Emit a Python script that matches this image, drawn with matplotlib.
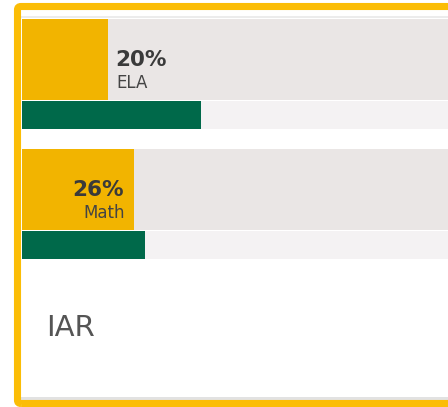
import matplotlib
matplotlib.use('Agg')
import matplotlib.pyplot as plt
from matplotlib.patches import FancyBboxPatch, Rectangle

# data
subjects = ['ELA', 'Math']
school_pct = [20, 26]
benchmark_pct = [41.6, 28.6]
label_side = ['outside', 'inside']
test_name = 'IAR'

W, H = 448, 407


def main():
    fig = plt.figure(figsize=(W / 100, H / 100), dpi=100)
    fig.patch.set_facecolor('white')

    # yellow card border with rounded corner, running off the right edge
    border = FancyBboxPatch((17.5 / W, 3.5 / H), 460 / W, 397 / H,
                            boxstyle='round,pad=0,rounding_size=0.008',
                            transform=fig.transFigure, fill=False,
                            edgecolor='#FBBD06', linewidth=5.1, zorder=5)
    fig.patches.append(border)
    # faint shadow above the bottom border
    fig.patches.append(Rectangle((21 / W, 1 - 400 / H), 1, 3.5 / H,
                                 transform=fig.transFigure,
                                 facecolor='#e2e2e2', edgecolor='none', zorder=4))
    # thin separator above the first bar
    fig.patches.append(Rectangle((21 / W, 1 - 17.5 / H), 1, 1.2 / H,
                                 transform=fig.transFigure,
                                 facecolor='#ececec', edgecolor='none', zorder=4))

    ax = fig.add_axes([22 / W, 1 - 259 / H, (W - 22) / W, 240 / H])
    ax.set_xlim(0, (W - 22) / 4.3)
    ax.set_ylim(240, 0)
    ax.axis('off')

    main_h, bench_h, step = 81, 28, 130
    for i, (name, val, bench, side) in enumerate(zip(subjects, school_pct, benchmark_pct, label_side)):
        yc = i * step + main_h / 2
        yb = i * step + main_h + 1 + bench_h / 2
        ax.barh(yc, 100, height=main_h, color='#EAE6E5', zorder=1)
        ax.barh(yc, val, height=main_h, color='#F2B400', zorder=2)
        ax.barh(yb, 100, height=bench_h, color='#F4F2F3', zorder=1)
        ax.barh(yb, bench, height=bench_h, color='#00694A', zorder=2)

        if side == 'outside':
            dx, ha = 7, 'left'
        else:
            dx, ha = -10, 'right'
        ax.annotate(f'{val}%', xy=(val, yc), xytext=(dx, -6.5),
                    textcoords='offset pixels', ha=ha, va='baseline',
                    fontsize=15.5, fontweight='bold', color='#3a3a3a', zorder=3)
        ax.annotate(name, xy=(val, yc), xytext=(dx + 1, -29),
                    textcoords='offset pixels', ha=ha, va='baseline',
                    fontsize=12, color='#444444', zorder=3)

    fig.text(46 / W, 1 - 336 / H, test_name, ha='left', va='baseline',
             fontsize=21, color='#555555')

    fig.savefig('out.png', dpi=100)


if __name__ == '__main__':
    main()
